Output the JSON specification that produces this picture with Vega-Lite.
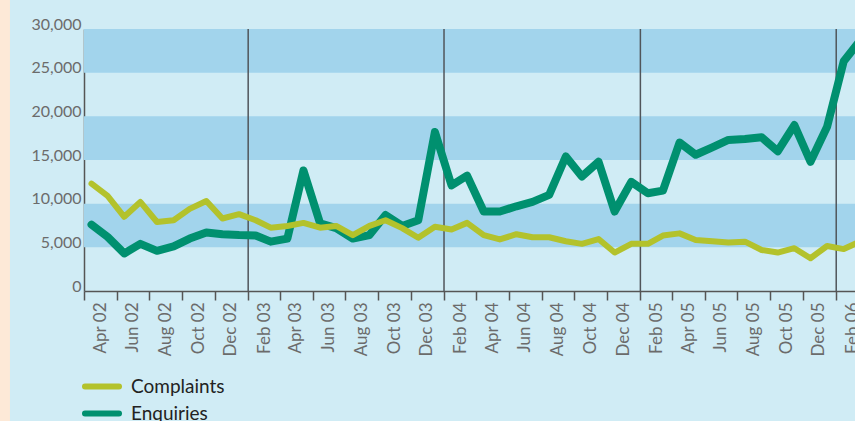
{
  "$schema": "https://vega.github.io/schema/vega-lite/v6.json",
  "width": 771,
  "height": 262,
  "autosize": {"type": "none"},
  "padding": {"left": 84, "top": 29, "right": 0, "bottom": 130},
  "background": "#d0ecf5",
  "config": {"view": {"stroke": null}, "font": "Lato"},
  "datasets": {
    "series": [
      {"month": "2002-04-15", "series": "Complaints", "value": 12300},
      {"month": "2002-05-15", "series": "Complaints", "value": 10900},
      {"month": "2002-06-15", "series": "Complaints", "value": 8500},
      {"month": "2002-07-15", "series": "Complaints", "value": 10200},
      {"month": "2002-08-15", "series": "Complaints", "value": 7900},
      {"month": "2002-09-15", "series": "Complaints", "value": 8100},
      {"month": "2002-10-15", "series": "Complaints", "value": 9400},
      {"month": "2002-11-15", "series": "Complaints", "value": 10300},
      {"month": "2002-12-15", "series": "Complaints", "value": 8300},
      {"month": "2003-01-15", "series": "Complaints", "value": 8800},
      {"month": "2003-02-15", "series": "Complaints", "value": 8100},
      {"month": "2003-03-15", "series": "Complaints", "value": 7250},
      {"month": "2003-04-15", "series": "Complaints", "value": 7450},
      {"month": "2003-05-15", "series": "Complaints", "value": 7800},
      {"month": "2003-06-15", "series": "Complaints", "value": 7250},
      {"month": "2003-07-15", "series": "Complaints", "value": 7450},
      {"month": "2003-08-15", "series": "Complaints", "value": 6400},
      {"month": "2003-09-15", "series": "Complaints", "value": 7450},
      {"month": "2003-10-15", "series": "Complaints", "value": 8100},
      {"month": "2003-11-15", "series": "Complaints", "value": 7200},
      {"month": "2003-12-15", "series": "Complaints", "value": 6100},
      {"month": "2004-01-15", "series": "Complaints", "value": 7350},
      {"month": "2004-02-15", "series": "Complaints", "value": 7050},
      {"month": "2004-03-15", "series": "Complaints", "value": 7800},
      {"month": "2004-04-15", "series": "Complaints", "value": 6400},
      {"month": "2004-05-15", "series": "Complaints", "value": 5900},
      {"month": "2004-06-15", "series": "Complaints", "value": 6500},
      {"month": "2004-07-15", "series": "Complaints", "value": 6150},
      {"month": "2004-08-15", "series": "Complaints", "value": 6150},
      {"month": "2004-09-15", "series": "Complaints", "value": 5700},
      {"month": "2004-10-15", "series": "Complaints", "value": 5400},
      {"month": "2004-11-15", "series": "Complaints", "value": 5950},
      {"month": "2004-12-15", "series": "Complaints", "value": 4400},
      {"month": "2005-01-15", "series": "Complaints", "value": 5400},
      {"month": "2005-02-15", "series": "Complaints", "value": 5400},
      {"month": "2005-03-15", "series": "Complaints", "value": 6350},
      {"month": "2005-04-15", "series": "Complaints", "value": 6600},
      {"month": "2005-05-15", "series": "Complaints", "value": 5850},
      {"month": "2005-06-15", "series": "Complaints", "value": 5700},
      {"month": "2005-07-15", "series": "Complaints", "value": 5550},
      {"month": "2005-08-15", "series": "Complaints", "value": 5650},
      {"month": "2005-09-15", "series": "Complaints", "value": 4700},
      {"month": "2005-10-15", "series": "Complaints", "value": 4400},
      {"month": "2005-11-15", "series": "Complaints", "value": 4900},
      {"month": "2005-12-15", "series": "Complaints", "value": 3750},
      {"month": "2006-01-15", "series": "Complaints", "value": 5150},
      {"month": "2006-02-15", "series": "Complaints", "value": 4800},
      {"month": "2006-03-15", "series": "Complaints", "value": 5600},
      {"month": "2002-04-15", "series": "Enquiries", "value": 7600},
      {"month": "2002-05-15", "series": "Enquiries", "value": 6200},
      {"month": "2002-06-15", "series": "Enquiries", "value": 4300},
      {"month": "2002-07-15", "series": "Enquiries", "value": 5400},
      {"month": "2002-08-15", "series": "Enquiries", "value": 4600},
      {"month": "2002-09-15", "series": "Enquiries", "value": 5100},
      {"month": "2002-10-15", "series": "Enquiries", "value": 6000},
      {"month": "2002-11-15", "series": "Enquiries", "value": 6700},
      {"month": "2002-12-15", "series": "Enquiries", "value": 6500},
      {"month": "2003-01-15", "series": "Enquiries", "value": 6400},
      {"month": "2003-02-15", "series": "Enquiries", "value": 6350},
      {"month": "2003-03-15", "series": "Enquiries", "value": 5650},
      {"month": "2003-04-15", "series": "Enquiries", "value": 6000},
      {"month": "2003-05-15", "series": "Enquiries", "value": 13800},
      {"month": "2003-06-15", "series": "Enquiries", "value": 7750},
      {"month": "2003-07-15", "series": "Enquiries", "value": 7200},
      {"month": "2003-08-15", "series": "Enquiries", "value": 6000},
      {"month": "2003-09-15", "series": "Enquiries", "value": 6400},
      {"month": "2003-10-15", "series": "Enquiries", "value": 8700},
      {"month": "2003-11-15", "series": "Enquiries", "value": 7450},
      {"month": "2003-12-15", "series": "Enquiries", "value": 8100},
      {"month": "2004-01-15", "series": "Enquiries", "value": 18200},
      {"month": "2004-02-15", "series": "Enquiries", "value": 12100},
      {"month": "2004-03-15", "series": "Enquiries", "value": 13200},
      {"month": "2004-04-15", "series": "Enquiries", "value": 9100},
      {"month": "2004-05-15", "series": "Enquiries", "value": 9100},
      {"month": "2004-06-15", "series": "Enquiries", "value": 9700},
      {"month": "2004-07-15", "series": "Enquiries", "value": 10200},
      {"month": "2004-08-15", "series": "Enquiries", "value": 11000},
      {"month": "2004-09-15", "series": "Enquiries", "value": 15400},
      {"month": "2004-10-15", "series": "Enquiries", "value": 13100},
      {"month": "2004-11-15", "series": "Enquiries", "value": 14800},
      {"month": "2004-12-15", "series": "Enquiries", "value": 9100},
      {"month": "2005-01-15", "series": "Enquiries", "value": 12500},
      {"month": "2005-02-15", "series": "Enquiries", "value": 11200},
      {"month": "2005-03-15", "series": "Enquiries", "value": 11500},
      {"month": "2005-04-15", "series": "Enquiries", "value": 17000},
      {"month": "2005-05-15", "series": "Enquiries", "value": 15600},
      {"month": "2005-06-15", "series": "Enquiries", "value": 16450},
      {"month": "2005-07-15", "series": "Enquiries", "value": 17300},
      {"month": "2005-08-15", "series": "Enquiries", "value": 17400},
      {"month": "2005-09-15", "series": "Enquiries", "value": 17600},
      {"month": "2005-10-15", "series": "Enquiries", "value": 16000},
      {"month": "2005-11-15", "series": "Enquiries", "value": 19000},
      {"month": "2005-12-15", "series": "Enquiries", "value": 14800},
      {"month": "2006-01-15", "series": "Enquiries", "value": 18800},
      {"month": "2006-02-15", "series": "Enquiries", "value": 26300},
      {"month": "2006-03-15", "series": "Enquiries", "value": 28500}
    ],
    "bands": [
      {"lo": 5000, "hi": 10000},
      {"lo": 15000, "hi": 20000},
      {"lo": 25000, "hi": 30000}
    ],
    "years": [
      {"date": "2003-02-01"},
      {"date": "2004-02-01"},
      {"date": "2005-02-01"},
      {"date": "2006-02-01"}
    ]
  },
  "layer": [
    {
      "data": {"values": [{}]},
      "mark": {"type": "rect", "color": "#fde9d7"},
      "encoding": {
        "x": {"datum": {"year": 2001, "month": 1, "date": 1, "utc": true}, "type": "temporal", "title": null},
        "x2": {"datum": {"year": 2001, "month": 11, "date": 14, "utc": true}},
        "y": {"datum": -20000, "type": "quantitative", "title": null},
        "y2": {"datum": 40000}
      }
    },
    {
      "data": {"name": "bands"},
      "mark": {"type": "rect", "color": "#a2d4ec"},
      "encoding": {
        "y": {"field": "lo", "type": "quantitative", "title": null},
        "y2": {"field": "hi"}
      }
    },
    {
      "data": {"name": "years"},
      "mark": {"type": "rule", "color": "#50555a", "strokeWidth": 1.5},
      "encoding": {
        "x": {"field": "date", "type": "temporal", "title": null},
        "y": {"datum": 0, "type": "quantitative", "title": null},
        "y2": {"datum": 30000}
      }
    },
    {
      "data": {"name": "series"},
      "transform": [{"filter": "datum.series == 'Enquiries'"}],
      "mark": {"type": "line", "strokeWidth": 8, "strokeCap": "round", "strokeJoin": "round", "clip": true},
      "encoding": {
        "x": {"field": "month", "type": "temporal", "title": null},
        "y": {"field": "value", "type": "quantitative", "title": null},
        "color": {"field": "series", "type": "nominal"}
      }
    },
    {
      "data": {"name": "series"},
      "transform": [{"filter": "datum.series == 'Complaints'"}],
      "mark": {"type": "line", "strokeWidth": 6, "strokeCap": "round", "strokeJoin": "round", "clip": true},
      "encoding": {
        "x": {
          "field": "month",
          "type": "temporal",
          "title": null,
          "scale": {"type": "utc", "domain": [{"year": 2002, "month": 4, "date": 1, "utc": true}, {"year": 2006, "month": 3, "date": 8, "utc": true}]},
          "axis": {
            "values": [
              {"year": 2002, "month": 4, "date": 1, "utc": true},
              {"year": 2002, "month": 6, "date": 1, "utc": true},
              {"year": 2002, "month": 8, "date": 1, "utc": true},
              {"year": 2002, "month": 10, "date": 1, "utc": true},
              {"year": 2002, "month": 12, "date": 1, "utc": true},
              {"year": 2003, "month": 2, "date": 1, "utc": true},
              {"year": 2003, "month": 4, "date": 1, "utc": true},
              {"year": 2003, "month": 6, "date": 1, "utc": true},
              {"year": 2003, "month": 8, "date": 1, "utc": true},
              {"year": 2003, "month": 10, "date": 1, "utc": true},
              {"year": 2003, "month": 12, "date": 1, "utc": true},
              {"year": 2004, "month": 2, "date": 1, "utc": true},
              {"year": 2004, "month": 4, "date": 1, "utc": true},
              {"year": 2004, "month": 6, "date": 1, "utc": true},
              {"year": 2004, "month": 8, "date": 1, "utc": true},
              {"year": 2004, "month": 10, "date": 1, "utc": true},
              {"year": 2004, "month": 12, "date": 1, "utc": true},
              {"year": 2005, "month": 2, "date": 1, "utc": true},
              {"year": 2005, "month": 4, "date": 1, "utc": true},
              {"year": 2005, "month": 6, "date": 1, "utc": true},
              {"year": 2005, "month": 8, "date": 1, "utc": true},
              {"year": 2005, "month": 10, "date": 1, "utc": true},
              {"year": 2005, "month": 12, "date": 1, "utc": true},
              {"year": 2006, "month": 2, "date": 1, "utc": true}
            ],
            "tickCount": 40,
            "format": "%b %y",
            "labelAngle": -90,
            "labelAlign": "right",
            "labelBaseline": "middle",
            "labelOffset": 16,
            "labelPadding": 2,
            "labelFlush": false,
            "labelOverlap": false,
            "labelFont": "Lato",
            "labelFontSize": 17,
            "labelColor": "#6b6b6b",
            "tickSize": 9,
            "tickColor": "#555555",
            "tickWidth": 1.5,
            "domainColor": "#555555",
            "domainWidth": 1.5,
            "grid": false
          }
        },
        "y": {
          "field": "value",
          "type": "quantitative",
          "title": null,
          "scale": {"domain": [0, 30000]},
          "axis": {
            "values": [0, 5000, 10000, 15000, 20000, 25000, 30000],
            "format": ",d",
            "ticks": false,
            "labelPadding": 3,
            "labelBaseline": "alphabetic",
            "labelFont": "Lato",
            "labelFontSize": 16,
            "labelColor": "#6b6b6b",
            "domainColor": "#555555",
            "domainWidth": 1.5,
            "grid": false
          }
        },
        "color": {
          "field": "series",
          "type": "nominal",
          "scale": {"domain": ["Complaints", "Enquiries"], "range": ["#b3c22c", "#00906f"]},
          "legend": {
            "title": null,
            "orient": "none",
            "legendX": -2,
            "legendY": 345,
            "clipHeight": 25,
            "symbolType": "stroke",
            "symbolSize": 1156,
            "symbolStrokeWidth": 6,
            "labelFont": "Lato",
            "labelFontSize": 19,
            "labelColor": "#222222",
            "labelOffset": 9,
            "rowPadding": 2,
            "encode": {"symbols": {"update": {"strokeCap": {"value": "round"}}}}
          }
        }
      }
    }
  ]
}
